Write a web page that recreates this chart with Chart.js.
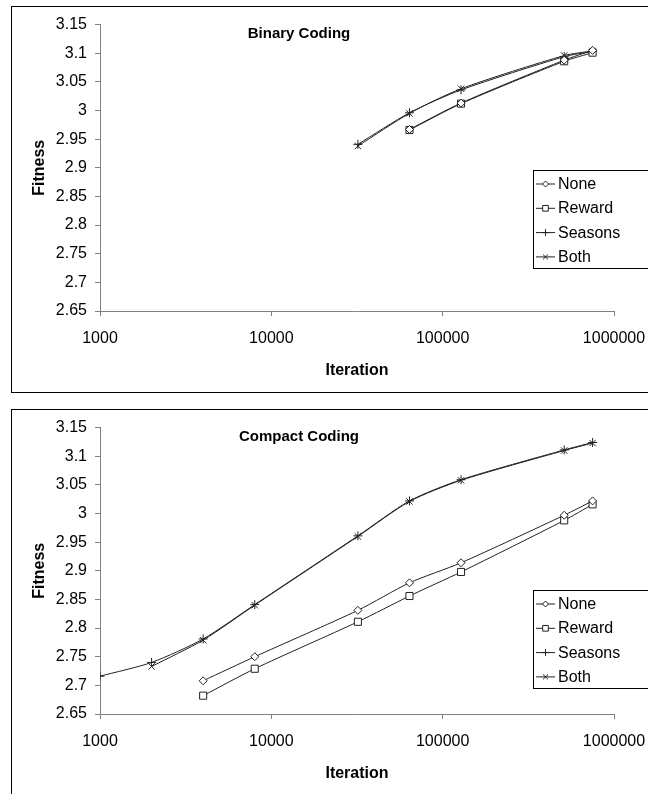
<!DOCTYPE html>
<html>
<head>
<meta charset="utf-8">
<script src="https://cdn.jsdelivr.net/npm/chart.js@4/dist/chart.umd.min.js"></script>
<style>
body { margin: 0; background: #fff; width: 648px; height: 794px; overflow: hidden; position: relative; }
.box { position: absolute; left: 11px; width: 660px; border: 1px solid #000; background: #fff; }
#box1 { top: 6px; height: 385px; }
#box2 { top: 409px; height: 400px; }
canvas { display: block; }
</style>
</head>
<body>
<div class="box" id="box1"><canvas id="binary" width="637" height="385"></canvas></div>
<div class="box" id="box2"><canvas id="compact" width="637" height="385"></canvas></div>
<script>
var iterations = [1000, 2000, 4000, 8000, 32000, 64000, 128000, 512000, 750000];
var seriesNames = ['None', 'Reward', 'Seasons', 'Both'];
var xTicks = [1000, 10000, 100000, 1000000];
var yTicks = [2.65, 2.7, 2.75, 2.8, 2.85, 2.9, 2.95, 3, 3.05, 3.1, 3.15];

// Binary Coding
var binaryNone    = [null, null, null, null, null,  2.967, 3.013, 3.088, 3.105];
var binaryReward  = [null, null, null, null, null,  2.966, 3.012, 3.086, 3.101];
var binarySeasons = [null, null, null, null, 2.941, 2.996, 3.036, 3.094, 3.103];
var binaryBoth    = [null, null, null, null, 2.938, 2.995, 3.038, 3.096, 3.104];

// Compact Coding
var compactNone    = [null,  null,  2.708, 2.750, 2.831, 2.879, 2.914, 2.997, 3.022];
var compactReward  = [null,  null,  2.682, 2.729, 2.811, 2.856, 2.898, 2.988, 3.016];
var compactSeasons = [2.716, 2.740, 2.781, 2.841, 2.961, 3.022, 3.059, 3.111, 3.124];
var compactBoth    = [null,  2.733, 2.779, 2.840, 2.960, 3.021, 3.058, 3.110, 3.123];

var FONT = 'Arial, "Liberation Sans", sans-serif';
var markers = [
    { style: 'rectRot', r: 4 },
    { style: 'rect', r: 5 },
    { style: 'cross', r: 4.5 },
    { style: 'crossRot', r: 4.5 }
];

function points(vals) {
    var out = [];
    for (var i = 0; i < iterations.length; i++) {
        if (vals[i] !== null) out.push({ x: iterations[i], y: vals[i] });
    }
    return out;
}

function makeDatasets(list) {
    return list.map(function (vals, i) {
        return {
            label: seriesNames[i],
            data: points(vals),
            borderColor: '#222',
            borderWidth: 1,
            tension: 0.25,
            pointStyle: markers[i].style,
            pointRadius: markers[i].r,
            pointBorderColor: '#222',
            pointBackgroundColor: '#fff',
            pointBorderWidth: 1
        };
    });
}

// chart title and boxed legend drawn over the plot, like the original
var overlay = {
    id: 'overlay',
    afterDraw: function (chart, args, opts) {
        var ctx = chart.ctx;
        ctx.save();
        ctx.fillStyle = '#000';
        ctx.font = 'bold 15px ' + FONT;
        ctx.textAlign = 'center';
        ctx.textBaseline = 'middle';
        ctx.fillText(opts.title, opts.titleX, opts.titleY);

        var lx = opts.legendX, ly = opts.legendY;
        ctx.fillStyle = '#fff';
        ctx.fillRect(lx, ly, 140, 98);
        ctx.strokeStyle = '#000';
        ctx.lineWidth = 1;
        ctx.strokeRect(lx + 0.5, ly + 0.5, 140, 98);

        ctx.font = '16px ' + FONT;
        ctx.textAlign = 'left';
        chart.data.datasets.forEach(function (ds, i) {
            var y = ly + 13.5 + i * 24.3;
            ctx.strokeStyle = '#222';
            ctx.beginPath();
            ctx.moveTo(lx + 3, y + 0.5);
            ctx.lineTo(lx + 22, y + 0.5);
            ctx.stroke();
            ctx.fillStyle = '#fff';
            Chart.helpers.drawPoint(ctx, { pointStyle: ds.pointStyle, radius: ds.pointRadius - 1, borderWidth: 1, rotation: 0 }, lx + 12.5, y + 0.5);
            ctx.fillStyle = '#000';
            ctx.fillText(ds.label, lx + 25, y + 1);
        });
        ctx.restore();
    }
};

function makeChart(id, title, series, legendY) {
    return new Chart(document.getElementById(id), {
        type: 'line',
        data: { datasets: makeDatasets(series) },
        plugins: [overlay],
        options: {
            responsive: false,
            animation: false,
            layout: { padding: { top: 16, right: 35, left: 0, bottom: 0 } },
            plugins: {
                legend: { display: false },
                tooltip: { enabled: false },
                overlay: { title: title, titleX: 287, titleY: 27, legendX: 521, legendY: legendY }
            },
            scales: {
                x: {
                    type: 'logarithmic',
                    min: 1000,
                    max: 1000000,
                    afterBuildTicks: function (s) { s.ticks = xTicks.map(function (v) { return { value: v }; }); },
                    afterFit: function (s) { s.height = 81; s.paddingRight = 0; s.paddingLeft = 0; },
                    border: { display: true, color: '#808080', width: 1 },
                    grid: { display: true, drawOnChartArea: false, tickLength: 5, color: '#808080' },
                    ticks: { color: '#000', padding: 13, maxRotation: 0, autoSkip: false, font: { family: FONT, size: 16 },
                        callback: function (v) { return String(v); } },
                    title: { display: true, text: 'Iteration', color: '#000', padding: { top: 0, bottom: 12 },
                        font: { family: FONT, size: 16, weight: 'bold' } }
                },
                y: {
                    min: 2.65,
                    max: 3.15,
                    afterBuildTicks: function (s) { s.ticks = yTicks.map(function (v) { return { value: v }; }); },
                    afterFit: function (s) { s.width = 88; },
                    border: { display: true, color: '#808080', width: 1 },
                    grid: { display: true, drawOnChartArea: false, tickLength: 5, color: '#808080' },
                    ticks: { color: '#000', padding: 8, font: { family: FONT, size: 16 },
                        callback: function (v) { return String(+v.toFixed(2)); } },
                    title: { display: true, text: 'Fitness', color: '#000', padding: { top: 18, bottom: 0 },
                        font: { family: FONT, size: 16, weight: 'bold' } }
                }
            }
        }
    });
}

makeChart('binary', 'Binary Coding', [binaryNone, binaryReward, binarySeasons, binaryBoth], 163);
makeChart('compact', 'Compact Coding', [compactNone, compactReward, compactSeasons, compactBoth], 180);
</script>
</body>
</html>
